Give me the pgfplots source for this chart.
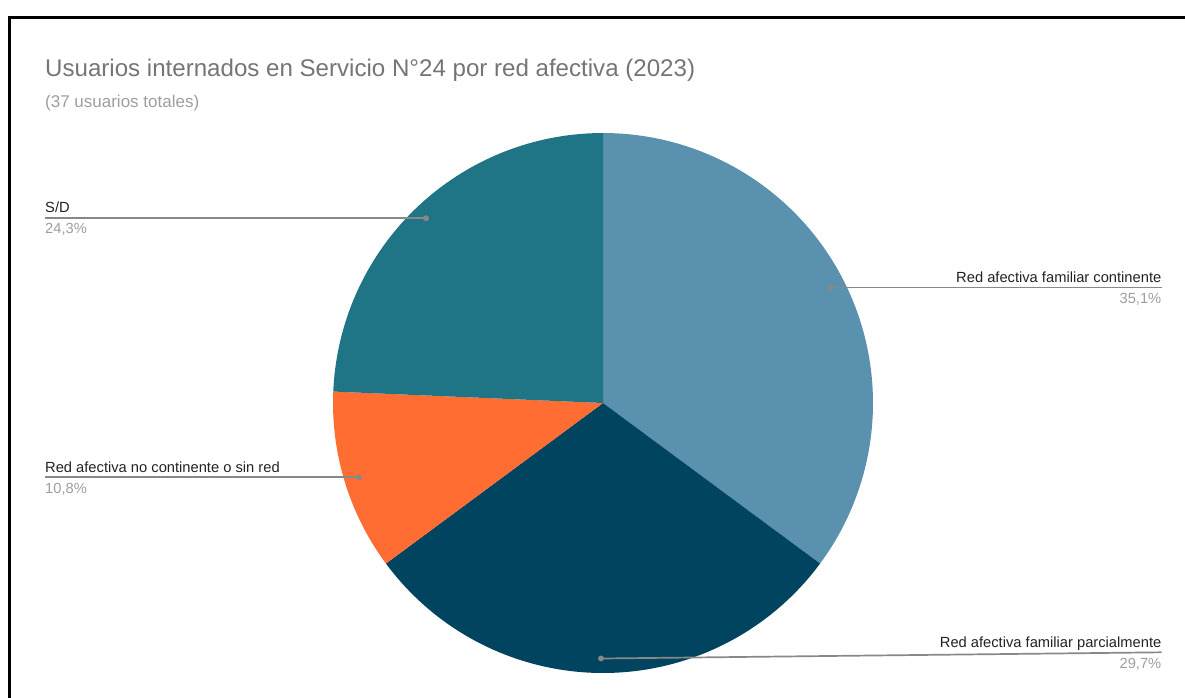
\documentclass[border=0pt]{standalone}
\usepackage{pgfplots}
\pgfplotsset{compat=1.18}
\usepackage{fontspec}
\setmainfont{Liberation Sans}
\definecolor{cCont}{HTML}{5A91AE}
\definecolor{cParc}{HTML}{00445F}
\definecolor{cNoc}{HTML}{FF6D33}
\definecolor{cSD}{HTML}{1F7585}
\definecolor{cTitle}{HTML}{757575}
\definecolor{cSub}{HTML}{9E9E9E}
\definecolor{cLab}{HTML}{222222}
\definecolor{cPct}{HTML}{9E9E9E}
\definecolor{cLead}{HTML}{888888}
\begin{document}
\begin{tikzpicture}
\begin{axis}[
  scale only axis, width=1185pt, height=697pt,
  xmin=0, xmax=1185, ymin=0, ymax=697, y dir=reverse,
  hide axis, clip=true,
]
% counts: continente 13, parcialmente 11, no continente 4, S/D 9 (total 37)
% slice angles (clockwise from top): 360*13/37, 360*24/37, 360*28/37
\addplot[fill=cCont, draw=none, domain=0:126.486, samples=120, variable=\t]
  ({603+270*sin(\t)},{403-270*cos(\t)}) -- (603,403) -- cycle;
\addplot[fill=cParc, draw=none, domain=126.486:233.514, samples=120, variable=\t]
  ({603+270*sin(\t)},{403-270*cos(\t)}) -- (603,403) -- cycle;
\addplot[fill=cNoc, draw=none, domain=233.514:272.432, samples=60, variable=\t]
  ({603+270*sin(\t)},{403-270*cos(\t)}) -- (603,403) -- cycle;
\addplot[fill=cSD, draw=none, domain=272.432:360, samples=100, variable=\t]
  ({603+270*sin(\t)},{403-270*cos(\t)}) -- (603,403) -- cycle;
% leader lines
\addplot[cLead, line width=1.7pt] coordinates {(45,218.3) (426,218.3)};
\addplot[cLead, line width=1.7pt] coordinates {(831,287.5) (1161.5,287.5)};
\addplot[cLead, line width=1.7pt] coordinates {(45,477.3) (359,477.3)};
\addplot[cLead, line width=1.7pt] coordinates {(601,658.5) (1161.5,652.3)};
\addplot[only marks, mark=*, mark size=2.7pt, cLead, mark options={draw=none, fill=cLead}]
  coordinates {(426,218.3) (831,287.5) (359,477.3) (601,658.5)};
% frame
\addplot[black, line width=3.3pt, line join=miter] coordinates {(9.5,700) (9.5,17.3) (1190,17.3)};
% titles
\node[anchor=base west, text=cTitle, font=\fontsize{24.1}{28}\selectfont, inner sep=0pt] at (45,76.6)
  {Usuarios internados en Servicio N°24 por red afectiva (2023)};
\node[anchor=base west, text=cSub, font=\fontsize{17}{20}\selectfont, inner sep=0pt] at (45,107.3)
  {(37 usuarios totales)};
% labels
\node[anchor=base west, text=cLab, font=\fontsize{14.7}{17}\selectfont, inner sep=0pt] at (45,212.7) {S/D};
\node[anchor=base west, text=cPct, font=\fontsize{14.7}{17}\selectfont, inner sep=0pt] at (45,233.3) {24,3\%};
\node[anchor=base east, text=cLab, font=\fontsize{14.7}{17}\selectfont, inner sep=0pt] at (1161.5,282) {Red afectiva familiar continente};
\node[anchor=base east, text=cPct, font=\fontsize{14.7}{17}\selectfont, inner sep=0pt] at (1161.5,303) {35,1\%};
\node[anchor=base west, text=cLab, font=\fontsize{14.7}{17}\selectfont, inner sep=0pt] at (45,472.5) {Red afectiva no continente o sin red};
\node[anchor=base west, text=cPct, font=\fontsize{14.7}{17}\selectfont, inner sep=0pt] at (45,493.3) {10,8\%};
\node[anchor=base east, text=cLab, font=\fontsize{14.7}{17}\selectfont, inner sep=0pt] at (1161.5,647) {Red afectiva familiar parcialmente};
\node[anchor=base east, text=cPct, font=\fontsize{14.7}{17}\selectfont, inner sep=0pt] at (1161.5,668) {29,7\%};
\end{axis}
\pgfresetboundingbox
\path (current axis.south west) rectangle (current axis.north east);
\end{tikzpicture}
\end{document}
